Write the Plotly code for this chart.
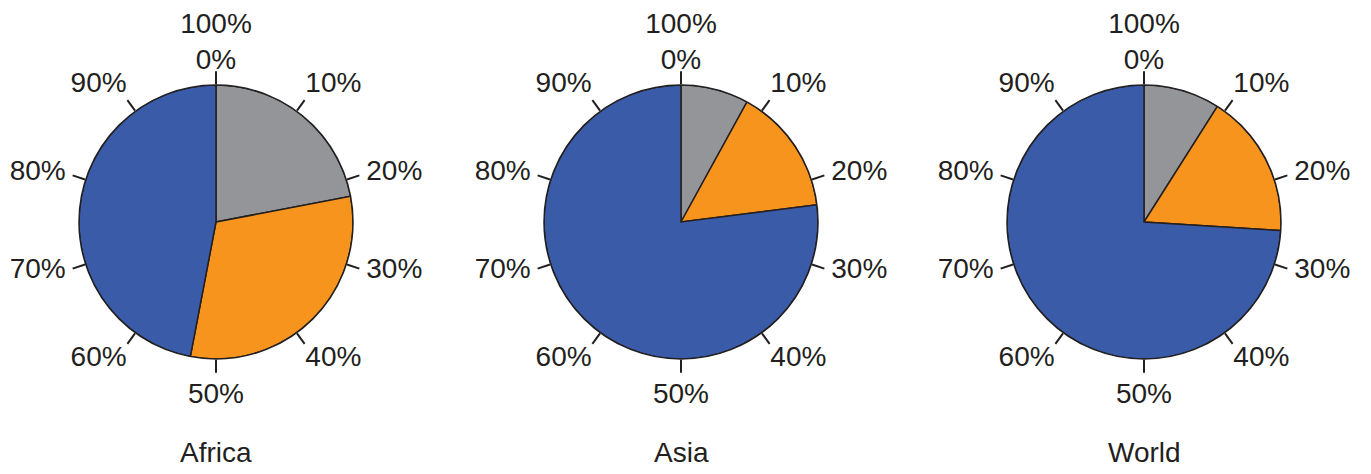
import math
import plotly.graph_objects as go

regions = ["Africa", "Asia", "World"]
segment_names = ["Gray", "Orange", "Blue"]
africa = [22, 31, 47]
asia = [8, 15, 77]
world = [9, 17, 74]
series = [africa, asia, world]
colors = ["#939598", "#f7941d", "#3a5ba8"]
tick_values = [0, 10, 20, 30, 40, 50, 60, 70, 80, 90]
tick_labels = ["100%<br>0%", "10%", "20%", "30%", "40%", "50%", "60%", "70%", "80%", "90%"]

ink = "#231f20"
font_family = "Liberation Sans, Arial, sans-serif"
fs = 28

fig = go.Figure()

W, H = 1371, 474
off = 8  # page body margin compensation
centers_x = [216 - off, 681 - off, 1144 - off]
center_y = 222 - off
title_y = 452 - off
radius = 137
ticklen = 13
label_scale = 1.3  # radial extent of the label overlay subplot


def label_layout(pct):
    """text anchor side and pixel distance from centre for a tick label"""
    a = math.radians(pct * 3.6)
    s, c = math.sin(a), math.cos(a)
    v = "top" if c > 0.5 else ("bottom" if c < -0.5 else "middle")
    h = "right" if s > 0.3 else ("left" if s < -0.3 else "center")
    if h == "center":
        dist = 146 if v == "top" else 160
    elif v == "middle":
        dist = 158
    else:
        dist = 152
    return f"{v} {h}", dist


def domain(cx, rad):
    return dict(x=[(cx - rad) / W, (cx + rad) / W],
                y=[(H - center_y - rad) / H, (H - center_y + rad) / H])


for i, vals in enumerate(series):
    cum = 0
    thetas, widths = [], []
    for v in vals:
        thetas.append((cum + v / 2) * 3.6)
        widths.append(v * 3.6)
        cum += v
    pname = f"polar{2 * i + 1}" if i else "polar"
    lname = f"polar{2 * i + 2}"
    fig.add_trace(go.Barpolar(
        r=[1] * len(vals), theta=thetas, width=widths,
        marker=dict(color=colors, line=dict(color=ink, width=1.5)),
        subplot=pname, showlegend=False, hoverinfo="skip",
        name=regions[i],
    ))
    # tick labels through a polar scale sharing the same centre and units
    for t, lab in zip(tick_values, tick_labels):
        pos, dist = label_layout(t)
        fig.add_trace(go.Scatterpolar(
            r=[dist / radius], theta=[t * 3.6], mode="text",
            text=[lab], textposition=pos,
            textfont=dict(size=fs, color=ink, family=font_family),
            cliponaxis=False, subplot=lname, showlegend=False,
            hoverinfo="skip",
        ))
    cx = centers_x[i]
    fig.layout[pname] = dict(
        domain=domain(cx, radius),
        bgcolor="white",
        hole=0,
        radialaxis=dict(visible=False, range=[0, 1]),
        angularaxis=dict(
            rotation=90, direction="clockwise",
            tickmode="array",
            tickvals=[t * 3.6 for t in tick_values],
            showticklabels=False,
            ticks="outside", ticklen=ticklen, tickwidth=1.5, tickcolor=ink,
            showline=True, linecolor=ink, linewidth=1.5,
            showgrid=False,
        ),
    )
    fig.layout[lname] = dict(
        domain=domain(cx, radius * label_scale),
        bgcolor="rgba(0,0,0,0)",
        radialaxis=dict(visible=False, range=[0, label_scale]),
        angularaxis=dict(visible=False, rotation=90, direction="clockwise"),
    )
    fig.add_annotation(
        x=cx / W, y=(H - title_y) / H, xref="paper", yref="paper",
        text=regions[i], showarrow=False, xanchor="center", yanchor="middle",
        font=dict(size=fs, color=ink, family=font_family),
    )

fig.update_layout(
    width=W, height=H,
    margin=dict(l=0, r=0, t=0, b=0),
    paper_bgcolor="white", plot_bgcolor="white",
    font=dict(family=font_family, color=ink),
    barmode="overlay",
)

fig.write_html("out.html")
